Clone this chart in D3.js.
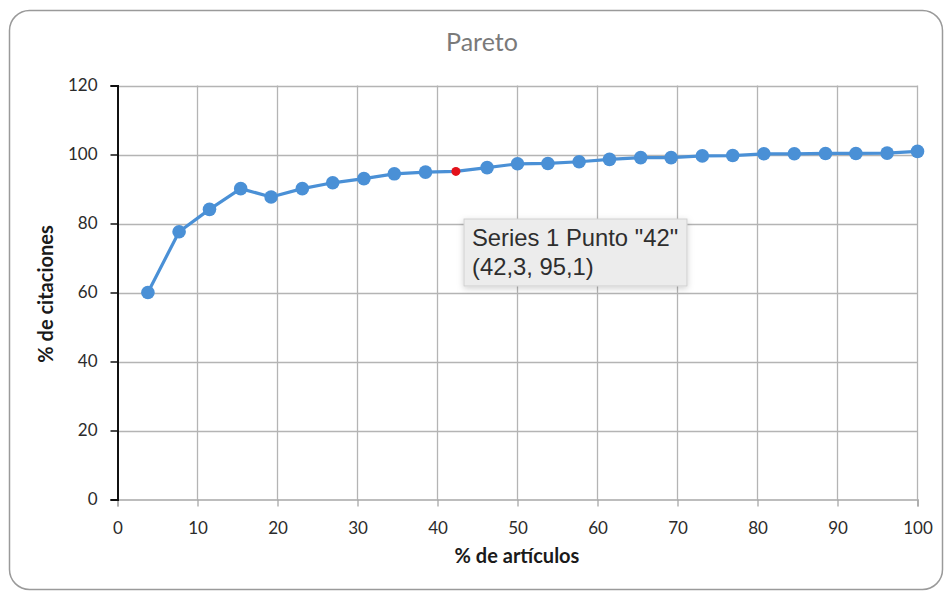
<!DOCTYPE html>
<html>
<head>
<meta charset="utf-8">
<script src="https://cdn.jsdelivr.net/npm/d3@7/dist/d3.min.js"></script>
<style>
  html, body { margin: 0; padding: 0; background: #ffffff; }
  svg { display: block; }
</style>
</head>
<body>
<svg id="chart" width="945" height="594"></svg>
<script>
// Cumulative share of citations vs. share of articles
const pctArticles = [3.8, 7.7, 11.5, 15.4, 19.2, 23.1, 26.9, 30.8, 34.6, 38.5, 42.3, 46.2, 50.0,
                     53.8, 57.7, 61.5, 65.4, 69.2, 73.1, 76.9, 80.8, 84.6, 88.5, 92.3, 96.2, 100];
const pctCitations = [60.0, 77.6, 84.1, 90.1, 87.7, 90.1, 91.8, 93.0, 94.4, 94.9, 95.1, 96.2, 97.3,
                      97.4, 97.9, 98.6, 99.1, 99.1, 99.6, 99.7, 100.2, 100.2, 100.3, 100.3, 100.4, 100.9];
const xTicks = [0, 10, 20, 30, 40, 50, 60, 70, 80, 90, 100];
const yTicks = [0, 20, 40, 60, 80, 100, 120];
const selectedIndex = 10; // point "42"
const chartTitle = "Pareto";
const xTitle = "% de artículos";
const yTitle = "% de citaciones";
const tipLines = ['Series 1 Punto "42"', '(42,3, 95,1)'];

const svg = d3.select("#chart");
const plotLeft = 117.5, plotRight = 917.5, plotTop = 85.5, plotBottom = 499.5;
const uiFont = "Lato, 'Open Sans', sans-serif";

const x = d3.scaleLinear().domain([0, 100]).range([plotLeft, plotRight]);
const y = d3.scaleLinear().domain([0, 120]).range([plotBottom, plotTop]);

// outer frame
svg.append("rect")
  .attr("x", 9.5).attr("y", 10.5).attr("width", 933).attr("height", 579)
  .attr("rx", 20).attr("ry", 20)
  .attr("fill", "#ffffff").attr("stroke", "#9a9a9a").attr("stroke-width", 1.5);

// title
svg.append("text")
  .attr("x", 482).attr("y", 51)
  .attr("text-anchor", "middle")
  .attr("font-family", uiFont)
  .attr("font-size", 25)
  .attr("fill", "#7a7a7a")
  .text(chartTitle);

const grid = svg.append("g");
// horizontal gridlines
grid.selectAll("line.h").data(yTicks.filter(d => d > 0)).join("line")
  .attr("x1", plotLeft).attr("x2", plotRight)
  .attr("y1", d => Math.round(y(d)) + 0.5).attr("y2", d => Math.round(y(d)) + 0.5)
  .attr("stroke", "#b4b4b4").attr("stroke-width", 1.3);
// vertical gridlines
grid.selectAll("line.v").data(xTicks.filter(d => d > 0)).join("line")
  .attr("x1", d => x(d)).attr("x2", d => x(d))
  .attr("y1", plotTop).attr("y2", plotBottom)
  .attr("stroke", "#b4b4b4").attr("stroke-width", 1.3);

// x axis
const xAxis = svg.append("g")
  .attr("transform", `translate(0,${plotBottom})`)
  .call(d3.axisBottom(x).tickValues(xTicks).tickSize(7).tickPadding(15));
xAxis.select(".domain").attr("stroke", "#a8a8a8").attr("stroke-width", 1.5);
xAxis.selectAll(".tick line").attr("stroke", "#a8a8a8").attr("stroke-width", 1.3);
xAxis.selectAll("text")
  .attr("font-family", uiFont)
  .attr("font-size", 17).attr("fill", "#2b2b2b");

// y axis
const yAxis = svg.append("g")
  .attr("transform", `translate(${plotLeft},0)`)
  .call(d3.axisLeft(y).tickValues(yTicks).tickSize(7).tickPadding(13));
yAxis.select(".domain").attr("stroke", "#111").attr("stroke-width", 2);
yAxis.selectAll(".tick line").attr("stroke", "#111").attr("stroke-width", 1.5);
yAxis.selectAll("text")
  .attr("font-family", uiFont)
  .attr("font-size", 17).attr("fill", "#2b2b2b");

// axis titles
svg.append("text")
  .attr("x", 517).attr("y", 563)
  .attr("text-anchor", "middle")
  .attr("font-family", uiFont)
  .attr("font-weight", "bold").attr("font-size", 20).attr("fill", "#1a1a1a")
  .text(xTitle);
svg.append("text")
  .attr("transform", "translate(53,294) rotate(-90)")
  .attr("text-anchor", "middle")
  .attr("font-family", uiFont)
  .attr("font-weight", "bold").attr("font-size", 20).attr("fill", "#1a1a1a")
  .text(yTitle);

// series
const pts = pctArticles.map((v, i) => ({ x: v, y: pctCitations[i], i }));
const blue = "#4a90d6";
svg.append("path")
  .datum(pts)
  .attr("fill", "none").attr("stroke", blue).attr("stroke-width", 3.2)
  .attr("stroke-linejoin", "round")
  .attr("d", d3.line().x(d => x(d.x)).y(d => y(d.y)));

svg.selectAll("circle.pt").data(pts.filter(d => d.i !== selectedIndex)).join("circle")
  .attr("class", "pt")
  .attr("cx", d => x(d.x)).attr("cy", d => y(d.y))
  .attr("r", 6.8).attr("fill", blue);

svg.selectAll("circle.sel").data(pts.filter(d => d.i === selectedIndex)).join("circle")
  .attr("class", "sel")
  .attr("cx", d => x(d.x)).attr("cy", d => y(d.y))
  .attr("r", 4.5).attr("fill", "#e3121b");

// hover tooltip
const defs = svg.append("defs");
const f = defs.append("filter").attr("id", "tipShadow")
  .attr("x", "-10%").attr("y", "-20%").attr("width", "120%").attr("height", "150%");
f.append("feDropShadow").attr("dx", 0).attr("dy", 2).attr("stdDeviation", 3)
  .attr("flood-color", "#000").attr("flood-opacity", 0.18);
const tip = svg.append("g");
tip.append("rect")
  .attr("x", 464).attr("y", 219).attr("width", 223).attr("height", 67)
  .attr("fill", "#ececec").attr("stroke", "#cfcfcf").attr("stroke-width", 1)
  .attr("filter", "url(#tipShadow)");
tip.selectAll("text").data(tipLines).join("text")
  .attr("x", 472).attr("y", (d, i) => 246 + i * 29)
  .attr("font-family", "'Liberation Sans', Arial, sans-serif")
  .attr("font-size", 23.8).attr("fill", "#2e2e2e")
  .text(d => d);
</script>
</body>
</html>
